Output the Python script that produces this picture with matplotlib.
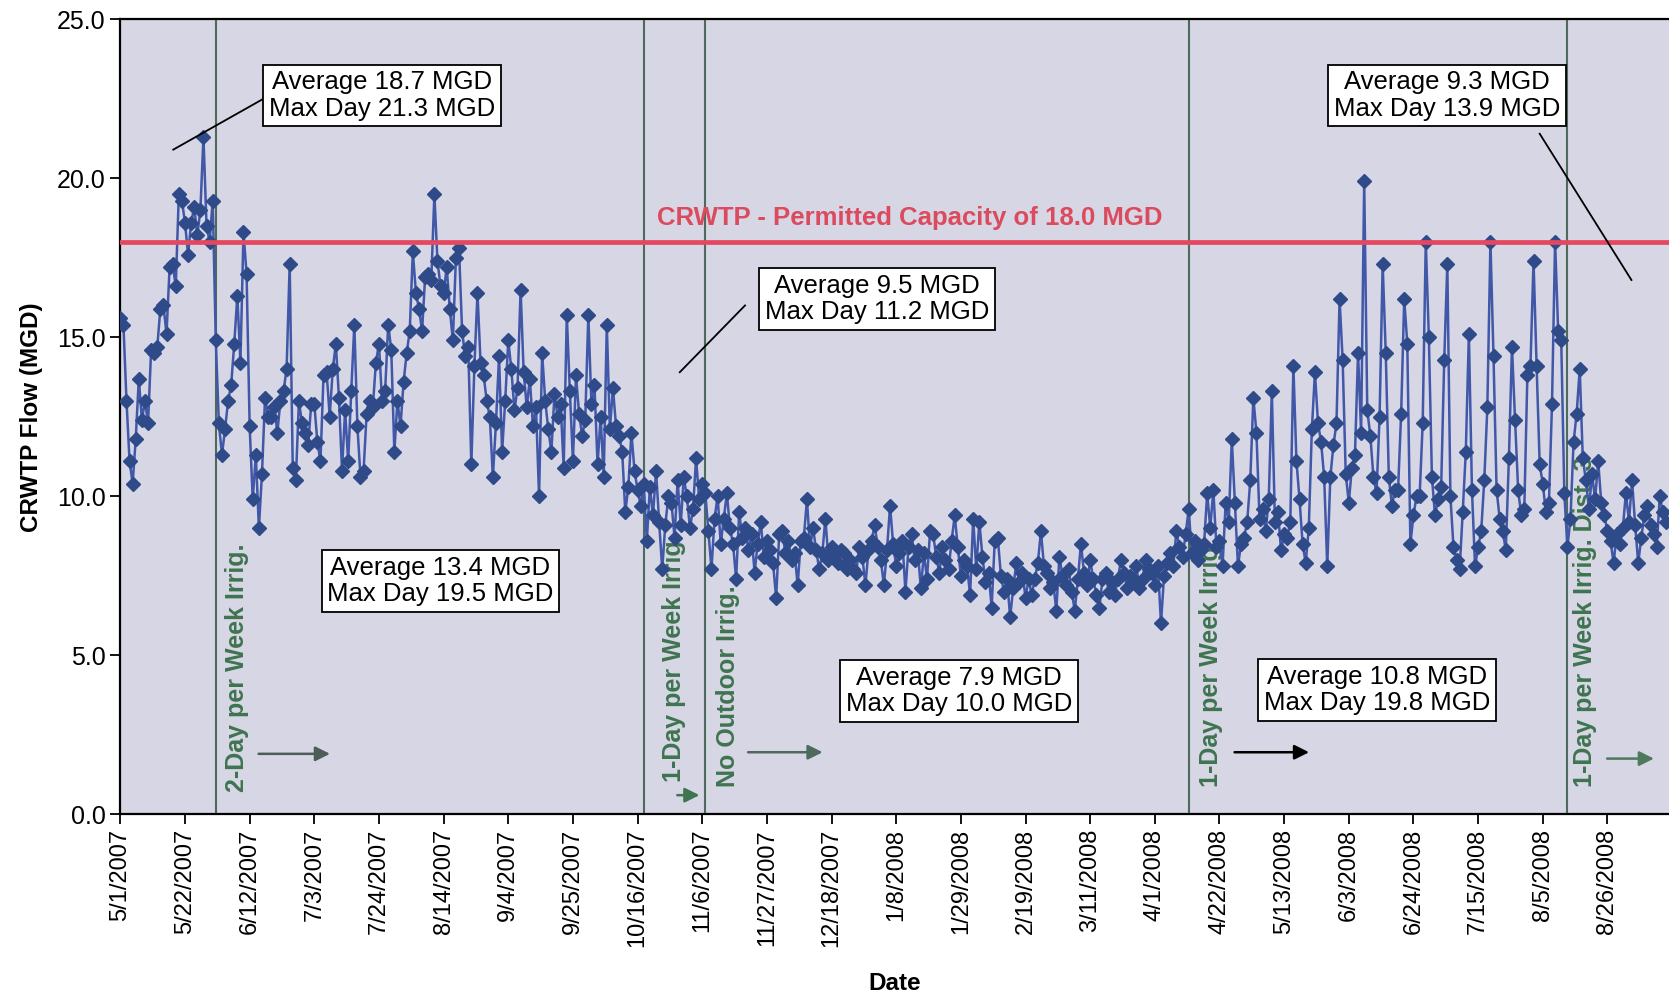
import numpy as np
import pandas as pd
import matplotlib
matplotlib.use("Agg")
import matplotlib.pyplot as plt
import matplotlib.dates as mdates

plt.rcParams['font.family'] = ['Liberation Sans', 'DejaVu Sans']

# daily CRWTP flow (MGD), starting 5/1/2007
start_date = "2007-05-01"

flow_may07 = [15.6, 15.4, 13.0, 11.1, 10.4, 11.8, 13.7, 12.4, 13.0, 12.3,
              14.6, 14.5, 14.7, 15.9, 16.0, 15.1, 17.2, 17.3, 16.6, 19.5,
              19.3, 18.6, 17.6, 18.6, 19.1, 18.2, 19.0, 21.3, 18.5, 18.0,
              19.3]

flow_jun_aug07 = [14.9, 12.3, 11.3, 12.1, 13.0, 13.5, 14.8, 16.3, 14.2, 18.3,
                  17.0, 12.2, 9.9, 11.3, 9.0, 10.7, 13.1, 12.5, 12.5, 12.8,
                  12.0, 13.0, 13.3, 14.0, 17.3, 10.9, 10.5, 13.0, 12.3, 12.0,
                  11.6, 12.9, 12.9, 11.7, 11.1, 13.8, 13.9, 12.5, 14.0, 14.8,
                  13.1, 10.8, 12.7, 11.1, 13.3, 15.4, 12.2, 10.6, 10.8, 12.6,
                  13.0, 12.8, 14.2, 14.8, 13.0, 13.3, 15.4, 14.6, 11.4, 13.0,
                  12.2, 13.6, 14.5, 15.2, 17.7, 16.4, 15.9, 15.2, 16.9]

flow_aug_nov07 = [17.0, 16.8, 19.5, 17.4, 16.6, 16.4, 17.2, 15.9, 14.9, 17.5,
                  17.8, 15.2, 14.4, 14.7, 11.0, 14.1, 16.4, 14.2, 13.8, 13.0,
                  12.5, 10.6, 12.3, 14.4, 11.4, 13.0, 14.9, 14.0, 12.7, 13.4,
                  16.5, 13.9, 12.8, 13.7, 12.2, 12.8, 10.0, 14.5, 13.0, 12.1,
                  11.4, 13.2, 12.5, 12.9, 10.9, 15.7, 13.3, 11.1, 13.8, 12.6,
                  11.9, 12.4, 15.7, 12.9, 13.5, 11.0, 12.5, 10.6, 15.4, 12.1,
                  13.4, 12.2, 11.9, 11.4, 9.5, 10.3, 12.0, 10.8, 10.2, 9.7,
                  10.4, 8.6, 10.3, 9.4, 10.8, 9.2, 7.7, 9.1, 10.0, 9.8,
                  8.7, 10.5, 9.1, 10.6, 10.0, 9.0, 9.6, 11.2, 9.9, 10.4,
                  10.1, 8.9, 7.7, 9.3, 10.0, 8.5, 9.3, 10.1, 9.0, 8.5,
                  7.4]

flow_nov07_apr08 = [9.5, 8.7, 9.0, 8.3, 8.8, 7.6, 8.5, 9.2, 8.1, 8.6,
                    8.3, 7.9, 6.8, 8.8, 8.9, 8.2, 8.6, 8.0, 8.2, 7.2,
                    8.6, 8.7, 9.9, 8.4, 9.0, 8.3, 7.7, 8.2, 9.3, 8.0,
                    8.4, 8.2, 7.9, 8.3, 8.2, 7.7, 8.0, 7.7, 7.6, 8.4,
                    8.1, 7.2, 8.3, 8.6, 9.1, 8.4, 8.0, 7.2, 8.3, 9.7,
                    8.5, 7.8, 8.2, 8.6, 7.0, 8.4, 8.8, 8.0, 8.3, 7.1,
                    8.2, 7.4, 8.9, 8.8, 8.1, 7.6, 8.4, 8.0, 7.7, 8.6,
                    9.4, 8.4, 7.5, 8.0, 7.8, 6.9, 9.3, 7.7, 9.2, 8.1,
                    7.3, 7.6, 6.5, 8.6, 8.7, 7.5, 7.0, 7.4, 6.2, 7.1,
                    7.9, 7.3, 7.6, 6.8, 7.4, 6.9, 7.4, 7.9, 8.9, 7.8,
                    7.6, 7.1, 7.3, 6.4, 8.1, 7.5, 7.2, 7.7, 7.0, 6.4,
                    7.4, 8.5, 7.6, 7.2, 8.0, 7.4, 6.9, 6.5, 7.4, 7.6,
                    7.0, 7.3, 6.9, 7.4, 8.0, 7.6, 7.1, 7.5, 7.3, 7.8,
                    7.1, 7.4, 8.0, 7.7, 7.6, 7.2, 7.8, 6.0, 7.5, 7.9,
                    8.2, 7.8, 8.9, 8.4, 8.1, 8.8]

flow_apr_sep08 = [9.6, 8.2, 8.6, 8.0, 8.3, 8.5, 10.1, 9.0, 10.2, 8.4,
                  8.6, 7.8, 9.8, 9.2, 11.8, 9.8, 7.8, 8.5, 8.7, 9.2,
                  10.5, 13.1, 12.0, 9.3, 9.6, 8.9, 9.9, 13.3, 9.2, 9.5,
                  8.3, 8.8, 8.7, 9.2, 14.1, 11.1, 9.9, 8.5, 7.9, 9.0,
                  12.1, 13.9, 12.3, 11.7, 10.6, 7.8, 10.6, 11.6, 12.3, 16.2,
                  14.3, 10.7, 9.8, 10.9, 11.3, 14.5, 12.0, 19.9, 12.7, 11.9,
                  10.6, 10.1, 12.5, 17.3, 14.5, 10.6, 9.7, 10.2, 10.2, 12.6,
                  16.2, 14.8, 8.5, 9.4, 10.0, 10.0, 12.3, 18.0, 15.0, 10.6,
                  9.4, 9.9, 10.3, 14.3, 17.3, 10.0, 8.4, 8.0, 7.7, 9.5,
                  11.4, 15.1, 10.2, 7.8, 8.4, 8.9, 10.5, 12.8, 18.0, 14.4,
                  10.2, 9.3, 8.9, 8.3, 11.2, 14.7, 12.4, 10.2, 9.4, 9.6,
                  13.8, 14.1, 17.4, 14.1, 11.0, 10.4, 9.5, 9.8, 12.9, 18.0,
                  15.2, 14.9, 10.1, 8.4, 9.3, 11.7, 12.6, 14.0, 11.2, 10.5,
                  9.6, 10.7, 9.9, 11.1, 9.8, 9.4, 8.9, 8.6, 7.9, 8.8,
                  8.5, 9.0, 10.1, 9.2, 10.5, 9.1, 7.9, 8.7, 9.4, 9.7,
                  9.1, 8.8, 8.4, 10.0, 9.5, 9.2]

flow = np.concatenate([flow_may07, flow_jun_aug07, flow_aug_nov07,
                       flow_nov07_apr08, flow_apr_sep08])
dates = pd.date_range(start_date, periods=len(flow), freq="D")

permitted_capacity = 18.0

# irrigation restriction changes
policy_dates = pd.to_datetime(["2007-06-01", "2007-10-18", "2007-11-07",
                               "2008-04-12", "2008-08-13"])
policy_labels = ["2-Day per Week Irrig.", "1-Day per Week Irrig.",
                 "No Outdoor Irrig.", "1-Day per Week Irrig",
                 "1-Day per Week Irrig. Dist. 3"]

# period summaries
summary_texts = ["Average 18.7 MGD\nMax Day 21.3 MGD",
                 "Average 13.4 MGD\nMax Day 19.5 MGD",
                 "Average 9.5 MGD\nMax Day 11.2 MGD",
                 "Average 7.9 MGD\nMax Day 10.0 MGD",
                 "Average 10.8 MGD\nMax Day 19.8 MGD",
                 "Average 9.3 MGD\nMax Day 13.9 MGD"]

t0 = pd.Timestamp(start_date)
def day(n):
    return t0 + pd.Timedelta(days=n)

fig = plt.figure(figsize=(16.69, 9.97), dpi=100)
ax = fig.add_axes([0.0721, 0.1833, 0.9279, 0.7974])
ax.set_facecolor('#d6d6e4')

ax.plot(dates, flow, color='#4157a8', lw=1.8, marker='D', ms=7,
        mfc='#2f4a88', mec='#2f4a88', zorder=3)

# permitted capacity
ax.axhline(permitted_capacity, color='#e4475f', lw=3.4, zorder=4)
ax.text(day(256.5), 18.75, "CRWTP - Permitted Capacity of 18.0 MGD",
        color='#dc4a5e', fontsize=18.5, fontweight='bold',
        ha='center', va='center', zorder=5)

# restriction lines + labels (drawn under the data, as in the original)
green = '#3f7450'
label_offsets = [7.0, 9.8, 7.3, 7.3, 5.8]
label_bottoms = [0.7, 1.0, 0.85, 0.85, 0.85]
for d, lab, off, yb in zip(policy_dates, policy_labels, label_offsets, label_bottoms):
    ax.axvline(d, color='#4d6a5c', lw=1.5, zorder=2)
    ax.text(d + pd.Timedelta(days=off), yb, lab, rotation=90, color=green,
            fontsize=18, fontweight='bold', ha='center', va='bottom', zorder=2.5)

# arrows
arrows = [(44, 69, 1.9, '#4d5d55'), (180, 189, 0.6, green),
          (203, 229, 1.95, '#4d6a5c'), (361, 387, 1.95, 'black'),
          (482, 499, 1.75, '#4d7a5c')]
for a, b, yv, c in arrows:
    ax.annotate("", xy=(day(b), yv), xytext=(day(a), yv),
                arrowprops=dict(arrowstyle='-|>', color=c, lw=1.8,
                                mutation_scale=22), zorder=5)

# summary boxes
box_pos = [(85, 22.6), (104, 7.33), (245.8, 16.2), (272.4, 3.88),
           (408.2, 3.9), (431, 22.6)]
for txt, (bx, by) in zip(summary_texts, box_pos):
    ax.text(day(bx), by, txt, fontsize=18.5, ha='center', va='center',
            linespacing=1.12, zorder=6,
            bbox=dict(boxstyle='square,pad=0.22', fc='white', ec='black', lw=1.3))

# leader lines
leaders = [((46.5, 22.5), (17.2, 20.9)), ((202.9, 16.0), (181.7, 13.9)),
           ((461, 21.4), (490.8, 16.8))]
for (x1, y1), (x2, y2) in leaders:
    ax.plot([day(x1), day(x2)], [y1, y2], color='black', lw=1.3, zorder=5)

# axes
ax.set_ylim(0, 25)
ax.set_xlim(day(0), day(503))
ax.set_yticks(np.arange(0, 25.1, 5))
ax.set_yticklabels([f"{v:.1f}" for v in np.arange(0, 25.1, 5)], fontsize=18)
ticks = pd.date_range(start_date, periods=24, freq="21D")
ax.set_xticks(ticks)
ax.set_xticklabels([f"{t.month}/{t.day}/{t.year}" for t in ticks],
                   rotation=90, fontsize=17)
ax.tick_params(axis='both', direction='out', length=7, width=1.3)
for s in ['left', 'bottom', 'top']:
    ax.spines[s].set_linewidth(1.6)
ax.spines['right'].set_visible(False)

ax.set_ylabel("CRWTP Flow (MGD)", fontsize=17.5, fontweight='bold', labelpad=10)
ax.set_xlabel("Date", fontsize=17.5, fontweight='bold', labelpad=18)

fig.savefig("out.png", dpi=100, facecolor='white')
